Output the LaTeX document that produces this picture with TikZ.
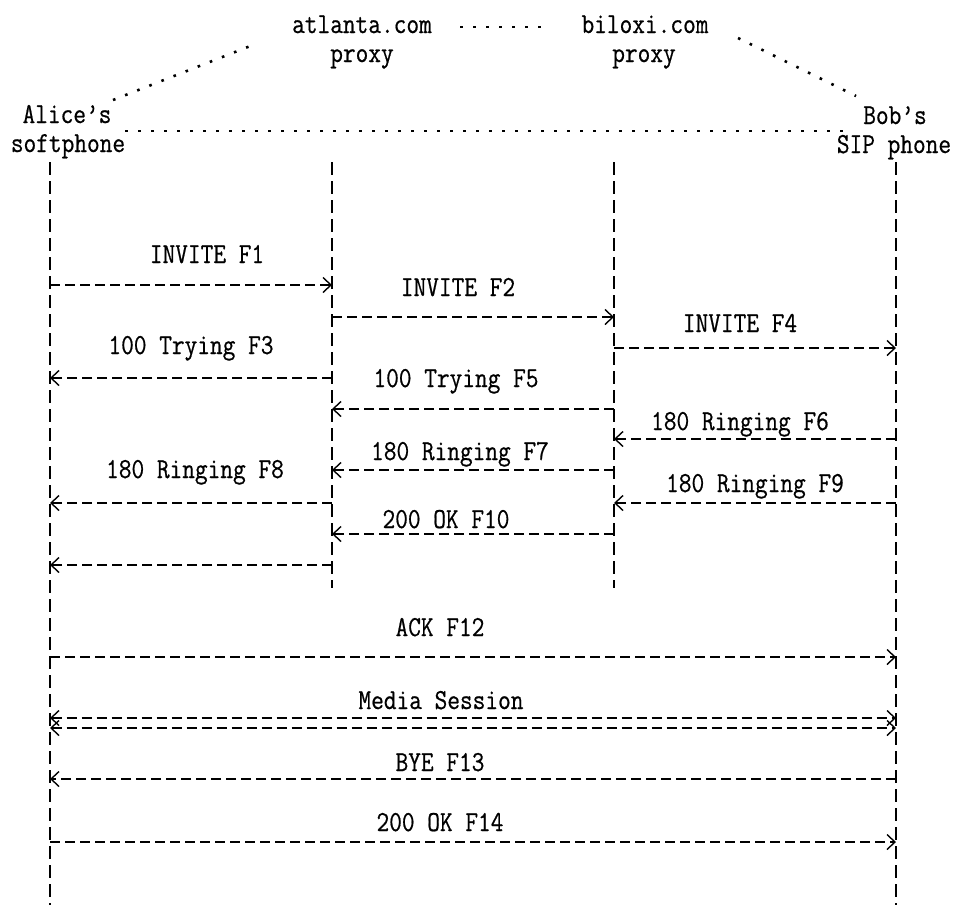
\documentclass[tikz,border=0pt]{standalone}
\usepackage{fontspec}
\newfontfamily\sipfont[FakeStretch=0.85, FakeBold=0.6]{Latin Modern Mono}
\usetikzlibrary{arrows.meta}

\begin{document}
\begin{tikzpicture}[x=1pt, y=-1pt,
  every node/.style={font=\sipfont\fontsize{29}{29}\selectfont, inner sep=0pt, anchor=base},
  life/.style={line width=2.8pt, dash pattern=on 13pt off 6pt},
  msg/.style={line width=2.6pt, dash pattern=on 10pt off 5pt,
    -{Straight Barb[length=8pt, width=15pt, line width=1.4pt]}},
  twoway/.style={msg, {Straight Barb[length=8pt, width=15pt, line width=1.4pt]}-{Straight Barb[length=8pt, width=15pt, line width=1.4pt]}},
  dots/.style={line width=2.6pt, dash pattern=on 2.6pt off 10.4pt}]
  \useasboundingbox (0,0) rectangle (957,905);
  % participants
  \node (atl)  at (362,33) {atlanta.com};
  \node (atlp) at (362,62) {proxy};
  \node (bil)  at (645,33) {biloxi.com};
  \node (bilp) at (644,62) {proxy};
  \node (alice)  at (67,123) {Alice’s};
  \node (alices) at (68,152) {softphone};
  \node (bob)    at (895,124) {Bob’s};
  \node (bobs)   at (894,153) {SIP phone};
  % dotted links between the hosts
  \coordinate (d1) at (113,100);
  \coordinate (d2) at (258,43);
  \coordinate (d3) at (460,27);
  \coordinate (d4) at (545,27);
  \coordinate (d5) at (738,38);
  \coordinate (d6) at (856,96);
  \coordinate (d7) at (125,131);
  \coordinate (d8) at (843,131);
  \draw[dots] (d1) -- (d2);
  \draw[dots] (d3) -- (d4);
  \draw[dots] (d5) -- (d6);
  \draw[dots] (d7) -- (d8);
  % lifelines
  \coordinate (A)  at (50,162);
  \coordinate (P1) at (332,162);
  \coordinate (P2) at (614,162);
  \coordinate (B)  at (896,162);
  \coordinate (Aend)  at (50,905);
  \coordinate (P1end) at (332,588);
  \coordinate (P2end) at (614,588);
  \coordinate (Bend)  at (896,905);
  \draw[life] (A) -- (Aend);
  \draw[life] (P1) -- (P1end);
  \draw[life] (P2) -- (P2end);
  \draw[life] (B) -- (Bend);
  % call setup
  \draw[msg] (A |- 0,285) -- (P1 |- 0,285);
  \node (f1) at (207,263) {INVITE F1};
  \draw[msg] (P1 |- 0,317) -- (P2 |- 0,317);
  \node (f2) at (458,296) {INVITE F2};
  \draw[msg] (P2 |- 0,348) -- (B |- 0,348);
  \node (f4) at (740,332) {INVITE F4};
  \draw[msg] (P1 |- 0,378) -- (A |- 0,378);
  \node (f3) at (191,354) {100 Trying F3};
  \draw[msg] (P2 |- 0,409) -- (P1 |- 0,409);
  \node (f5) at (456,387) {100 Trying F5};
  \draw[msg] (B |- 0,439) -- (P2 |- 0,439);
  \node (f6) at (740,430) {180 Ringing F6};
  \draw[msg] (P2 |- 0,470) -- (P1 |- 0,470);
  \node (f7) at (460,460) {180 Ringing F7};
  \draw[msg] (B |- 0,503) -- (P2 |- 0,503);
  \node (f9) at (755,492) {180 Ringing F9};
  \draw[msg] (P1 |- 0,503) -- (A |- 0,503);
  \node (f8) at (195,478) {180 Ringing F8};
  \draw[msg] (P2 |- 0,534) -- (P1 |- 0,534);
  \node (f10) at (446,528) {200 OK F10};
  \draw[msg] (P1 |- 0,565) -- (A |- 0,565);
  % end to end
  \draw[msg] (A |- 0,657) -- (B |- 0,657);
  \node (f12) at (440,636) {ACK F12};
  \draw[twoway] (A |- 0,718) -- (B |- 0,718);
  \draw[twoway] (A |- 0,728) -- (B |- 0,728);
  \node (media) at (441,709) {Media Session};
  \draw[msg] (B |- 0,779) -- (A |- 0,779);
  \node (f13) at (440,771) {BYE F13};
  \draw[msg] (A |- 0,842) -- (B |- 0,842);
  \node (f14) at (440,831) {200 OK F14};
\end{tikzpicture}
\end{document}
